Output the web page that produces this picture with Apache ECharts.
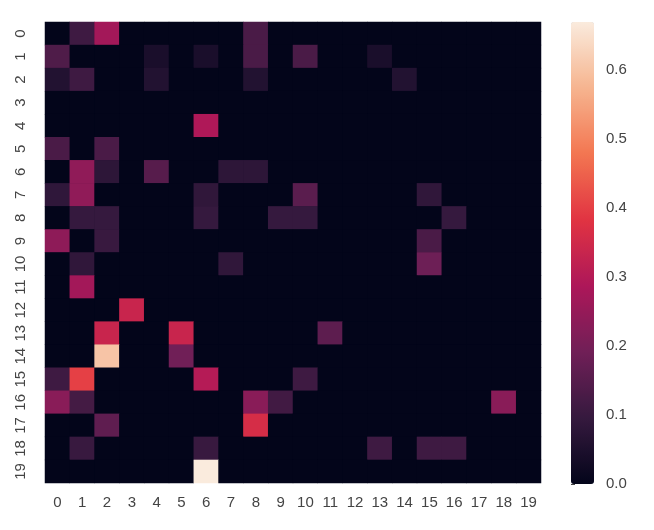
<!DOCTYPE html>
<html>
<head>
<meta charset="utf-8">
<script src="https://cdn.jsdelivr.net/npm/echarts@6/dist/echarts.min.js"></script>
<style>
  html, body { margin: 0; padding: 0; background: #fff; }
  #chart { width: 654px; height: 530px; }
</style>
</head>
<body>
<div id="chart"></div>
<script>
// row / column labels 0..19
const labels = ['0','1','2','3','4','5','6','7','8','9','10','11','12','13','14','15','16','17','18','19'];

// one array per row (row 0 at the top)
const row0  = [0, 0.11, 0.27, 0, 0, 0, 0, 0, 0.13, 0, 0, 0, 0, 0, 0, 0, 0, 0, 0, 0];
const row1  = [0.137, 0, 0, 0, 0.044, 0, 0.044, 0, 0.13, 0, 0.13, 0, 0, 0.044, 0, 0, 0, 0, 0, 0];
const row2  = [0.06, 0.11, 0, 0, 0.06, 0, 0, 0, 0.06, 0, 0, 0, 0, 0, 0.06, 0, 0, 0, 0, 0];
const row3  = [0, 0, 0, 0, 0, 0, 0, 0, 0, 0, 0, 0, 0, 0, 0, 0, 0, 0, 0, 0];
const row4  = [0, 0, 0, 0, 0, 0, 0.29, 0, 0, 0, 0, 0, 0, 0, 0, 0, 0, 0, 0, 0];
const row5  = [0.13, 0, 0.13, 0, 0, 0, 0, 0, 0, 0, 0, 0, 0, 0, 0, 0, 0, 0, 0, 0];
const row6  = [0, 0.24, 0.08, 0, 0.15, 0, 0, 0.08, 0.08, 0, 0, 0, 0, 0, 0, 0, 0, 0, 0, 0];
const row7  = [0.084, 0.24, 0, 0, 0, 0, 0.085, 0, 0, 0, 0.155, 0, 0, 0, 0, 0.085, 0, 0, 0, 0];
const row8  = [0, 0.095, 0.095, 0, 0, 0, 0.095, 0, 0, 0.095, 0.095, 0, 0, 0, 0, 0, 0.095, 0, 0, 0];
const row9  = [0.237, 0, 0.1, 0, 0, 0, 0, 0, 0, 0, 0, 0, 0, 0, 0, 0.13, 0, 0, 0, 0];
const row10 = [0, 0.085, 0, 0, 0, 0, 0, 0.085, 0, 0, 0, 0, 0, 0, 0, 0.185, 0, 0, 0, 0];
const row11 = [0, 0.27, 0, 0, 0, 0, 0, 0, 0, 0, 0, 0, 0, 0, 0, 0, 0, 0, 0, 0];
const row12 = [0, 0, 0, 0.335, 0, 0, 0, 0, 0, 0, 0, 0, 0, 0, 0, 0, 0, 0, 0, 0];
const row13 = [0, 0, 0.335, 0, 0, 0.335, 0, 0, 0, 0, 0, 0.16, 0, 0, 0, 0, 0, 0, 0, 0];
const row14 = [0, 0, 0.6, 0, 0, 0.19, 0, 0, 0, 0, 0, 0, 0, 0, 0, 0, 0, 0, 0, 0];
const row15 = [0.11, 0.4, 0, 0, 0, 0, 0.3, 0, 0, 0, 0.11, 0, 0, 0, 0, 0, 0, 0, 0, 0];
const row16 = [0.23, 0.12, 0, 0, 0, 0, 0, 0, 0.23, 0.115, 0, 0, 0, 0, 0, 0, 0, 0, 0.23, 0];
const row17 = [0, 0, 0.163, 0, 0, 0, 0, 0, 0.36, 0, 0, 0, 0, 0, 0, 0, 0, 0, 0, 0];
const row18 = [0, 0.1, 0, 0, 0, 0, 0.1, 0, 0, 0, 0, 0, 0, 0.11, 0, 0.11, 0.11, 0, 0, 0];
const row19 = [0, 0, 0, 0, 0, 0, 0.667, 0, 0, 0, 0, 0, 0, 0, 0, 0, 0, 0, 0, 0];

const colorbarTicks = [0, 0.1, 0.2, 0.3, 0.4, 0.5, 0.6];
const vmax = 0.667;

// seaborn "rocket" colormap, sampled evenly
const rocket = ['#03051A', '#35193E', '#701F57', '#AD1759', '#E13342', '#F37651', '#F6B48F', '#FAEBDD'];

const rows = [row0, row1, row2, row3, row4, row5, row6, row7, row8, row9,
              row10, row11, row12, row13, row14, row15, row16, row17, row18, row19];
const cells = [];
rows.forEach((r, y) => r.forEach((v, x) => cells.push([x, y, v])));

const font = 'Liberation Sans, Arial, sans-serif';
const chart = echarts.init(document.getElementById('chart'));

const option = {
  animation: false,
  grid: [
    // dark backdrop hides the hairline seams between cells
    { left: 45, top: 22, width: 496, height: 461, show: true, backgroundColor: rocket[0], borderWidth: 0 },
    { left: 571, top: 70, width: 23, height: 414 }
  ],
  xAxis: [
    {
      type: 'category', data: labels, gridIndex: 0,
      axisLine: { show: false }, axisTick: { show: false },
      axisLabel: { color: '#444', fontSize: 15, fontFamily: font, margin: 12, interval: 0 },
      splitLine: { show: false }
    },
    { type: 'value', gridIndex: 1, show: false }
  ],
  yAxis: [
    {
      type: 'category', data: labels, gridIndex: 0, inverse: true,
      axisLine: { show: false }, axisTick: { show: false },
      axisLabel: { color: '#444', fontSize: 15, fontFamily: font, margin: 17, rotate: 90, interval: 0 },
      splitLine: { show: false }
    },
    {
      type: 'value', gridIndex: 1, position: 'right',
      min: 0, max: 0.6, interval: 0.1,
      axisLine: { show: false },
      axisTick: { show: true, length: 4, lineStyle: { color: '#444' } },
      axisLabel: {
        color: '#444', fontSize: 15, fontFamily: font, margin: 12,
        formatter: v => colorbarTicks.some(t => Math.abs(t - v) < 1e-6) ? v.toFixed(1) : ''
      },
      splitLine: { show: false }
    }
  ],
  visualMap: {
    type: 'continuous',
    min: 0, max: vmax,
    seriesIndex: 0,
    calculable: false,
    realtime: false,
    orient: 'vertical',
    left: 571, top: 22,
    itemWidth: 23, itemHeight: 462,
    padding: 0,
    text: null,
    showLabel: false,
    hoverLink: false,
    indicatorSize: 0,
    inRange: { color: rocket }
  },
  series: [
    {
      type: 'heatmap',
      xAxisIndex: 0, yAxisIndex: 0,
      data: cells,
      itemStyle: { borderWidth: 0 },
      emphasis: { disabled: true }
    },
    {
      type: 'scatter', xAxisIndex: 1, yAxisIndex: 1, data: [], silent: true
    }
  ]
};

chart.setOption(option);
</script>
</body>
</html>
